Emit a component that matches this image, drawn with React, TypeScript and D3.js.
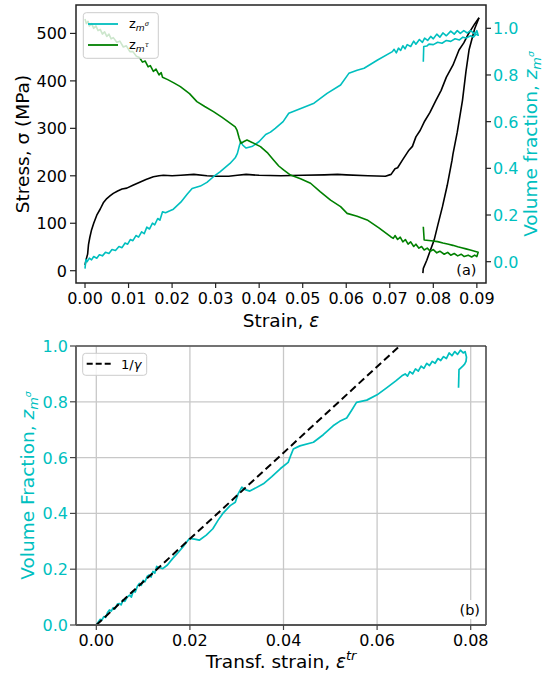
import React from "react";
import * as d3 from "d3";

// ---------- data (top panel: strain vs stress / volume fractions) ----------
const stressLoading: [number, number][] = [
  [0, 12], [0.0003, 25], [0.0006, 35], [0.0008, 55], [0.0011, 70], [0.0015, 86], [0.002, 100],
  [0.0027, 117], [0.0035, 130], [0.0042, 143], [0.005, 152], [0.0058, 158], [0.0065, 163],
  [0.0075, 168], [0.0085, 172], [0.0096, 174], [0.011, 180], [0.0127, 187], [0.014, 192],
  [0.0157, 198], [0.017, 200], [0.018, 201], [0.02, 200], [0.022, 201], [0.025, 203],
  [0.028, 200], [0.03, 199], [0.033, 199], [0.035, 201], [0.037, 203], [0.04, 201],
  [0.045, 200], [0.05, 201], [0.055, 202], [0.058, 203], [0.06, 202], [0.065, 200],
  [0.069, 199], [0.0703, 203], [0.0712, 215], [0.0718, 217], [0.0729, 233], [0.0744, 254],
  [0.0752, 262], [0.076, 282], [0.077, 296], [0.078, 315], [0.0792, 333], [0.0806, 359],
  [0.0818, 380], [0.083, 408], [0.0845, 433], [0.0859, 465], [0.087, 480], [0.088, 498],
  [0.0895, 520], [0.0905, 533],
];
const stressUnloading: [number, number][] = [
  [0.0905, 533], [0.0895, 510], [0.0882, 465], [0.0875, 420], [0.0867, 359], [0.0855, 292],
  [0.0845, 245], [0.0843, 233], [0.0832, 180], [0.0821, 135], [0.081, 95], [0.0802, 65],
  [0.0792, 40], [0.0785, 22], [0.0777, 5], [0.0776, -5],
];
const zSigmaTop: [number, number][] = [
  [0, -0.03], [0.0002, 0.01], [0.0005, 0.0], [0.001, 0.015], [0.0015, 0.008], [0.002, 0.022],
  [0.0027, 0.015], [0.0033, 0.03], [0.004, 0.025], [0.0047, 0.04], [0.0055, 0.035],
  [0.0062, 0.052], [0.007, 0.048], [0.0078, 0.065], [0.0085, 0.06], [0.0092, 0.08],
  [0.0098, 0.075], [0.0104, 0.095], [0.011, 0.09], [0.0117, 0.112], [0.0123, 0.105],
  [0.013, 0.128], [0.0136, 0.12], [0.0142, 0.148], [0.0148, 0.14], [0.0155, 0.165],
  [0.016, 0.158], [0.0167, 0.185], [0.0172, 0.178], [0.0178, 0.214], [0.0185, 0.21],
  [0.0195, 0.218], [0.0203, 0.225], [0.022, 0.255], [0.0235, 0.29], [0.0246, 0.314],
  [0.0265, 0.324], [0.028, 0.34], [0.0295, 0.364], [0.031, 0.385], [0.0333, 0.421],
  [0.0345, 0.445], [0.035, 0.464], [0.0355, 0.5], [0.0358, 0.515], [0.0362, 0.5],
  [0.037, 0.487], [0.0385, 0.495], [0.04, 0.515], [0.0415, 0.545], [0.0426, 0.555],
  [0.0437, 0.571], [0.0455, 0.6], [0.0468, 0.636], [0.05, 0.66], [0.0526, 0.679],
  [0.0556, 0.721], [0.0587, 0.757], [0.0606, 0.807], [0.0625, 0.82], [0.0641, 0.829],
  [0.0672, 0.864], [0.0706, 0.9], [0.071, 0.91], [0.0715, 0.895], [0.072, 0.915],
  [0.0725, 0.905], [0.073, 0.925], [0.0735, 0.912], [0.074, 0.93], [0.0748, 0.922],
  [0.0755, 0.945], [0.076, 0.932], [0.0768, 0.952], [0.0775, 0.94], [0.078, 0.958],
  [0.0787, 0.948], [0.0794, 0.965], [0.08, 0.955], [0.0808, 0.975], [0.0815, 0.962],
  [0.0822, 0.98], [0.083, 0.968], [0.084, 0.988], [0.0848, 0.975], [0.0855, 0.99],
  [0.0862, 0.978], [0.087, 0.99], [0.0878, 0.98], [0.0886, 0.99], [0.0895, 0.975],
  [0.09, 0.99], [0.0903, 0.97], [0.0898, 0.975], [0.0892, 0.962], [0.0886, 0.968],
  [0.0875, 0.958], [0.0868, 0.962], [0.086, 0.95], [0.085, 0.955], [0.084, 0.944],
  [0.083, 0.948], [0.082, 0.936], [0.081, 0.94], [0.08, 0.93], [0.079, 0.932],
  [0.0785, 0.924], [0.0778, 0.922], [0.0777, 0.857],
];
const zTauTop: [number, number][] = [
  [0, 1.04], [0.0003, 1.02], [0.0007, 1.03], [0.001, 1.01], [0.0015, 1.02], [0.002, 1.0],
  [0.0025, 1.01], [0.003, 0.99], [0.0035, 0.995], [0.004, 0.975], [0.0045, 0.985],
  [0.005, 0.965], [0.0055, 0.975], [0.006, 0.955], [0.0065, 0.96], [0.0073, 0.94],
  [0.008, 0.945], [0.0088, 0.92], [0.0095, 0.925], [0.0103, 0.9], [0.011, 0.9],
  [0.0118, 0.88], [0.0125, 0.875], [0.0132, 0.855], [0.0138, 0.86], [0.0145, 0.835],
  [0.015, 0.84], [0.0157, 0.815], [0.0163, 0.825], [0.017, 0.8], [0.0175, 0.81],
  [0.0178, 0.79], [0.019, 0.78], [0.0205, 0.765], [0.0219, 0.75], [0.024, 0.72],
  [0.0257, 0.686], [0.0275, 0.665], [0.0295, 0.643], [0.0315, 0.618], [0.0334, 0.593],
  [0.0345, 0.578], [0.0349, 0.564], [0.0354, 0.53], [0.0358, 0.507], [0.0365, 0.515],
  [0.0372, 0.521], [0.0385, 0.51], [0.0403, 0.493], [0.042, 0.465], [0.0433, 0.436],
  [0.0445, 0.41], [0.0456, 0.393], [0.0472, 0.371], [0.0495, 0.355], [0.0518, 0.336],
  [0.054, 0.3], [0.0564, 0.264], [0.0587, 0.236], [0.0602, 0.207], [0.0625, 0.195],
  [0.0648, 0.179], [0.0675, 0.145], [0.0702, 0.107], [0.0708, 0.1], [0.0712, 0.112],
  [0.0718, 0.095], [0.0724, 0.105], [0.073, 0.085], [0.0736, 0.095], [0.0742, 0.075],
  [0.0748, 0.085], [0.0755, 0.065], [0.076, 0.075], [0.0767, 0.058], [0.0773, 0.065],
  [0.0779, 0.05], [0.0786, 0.058], [0.0793, 0.045], [0.08, 0.052], [0.0808, 0.038],
  [0.0815, 0.045], [0.0825, 0.032], [0.0833, 0.04], [0.084, 0.028], [0.0848, 0.035],
  [0.0856, 0.025], [0.0864, 0.032], [0.0871, 0.022], [0.088, 0.028], [0.0888, 0.02],
  [0.0895, 0.028], [0.09, 0.022], [0.0903, 0.04], [0.0895, 0.045], [0.0885, 0.05],
  [0.0875, 0.055], [0.0865, 0.06], [0.0856, 0.064], [0.0845, 0.07], [0.0835, 0.075],
  [0.0822, 0.08], [0.081, 0.086], [0.0795, 0.09], [0.0779, 0.093], [0.0777, 0.15],
];

// ---------- data (bottom panel: transformation strain vs volume fraction) ----------
const zSigmaTr: [number, number][] = [
  [0, 0], [0.0004, 0.01], [0.0008, 0.02], [0.0012, 0.018], [0.0016, 0.03], [0.002, 0.027],
  [0.0024, 0.045], [0.0028, 0.054], [0.0032, 0.05], [0.0036, 0.062], [0.004, 0.058],
  [0.0045, 0.075], [0.0049, 0.077], [0.0053, 0.072], [0.0057, 0.09], [0.0061, 0.085],
  [0.0066, 0.1], [0.0071, 0.107], [0.0075, 0.1], [0.0079, 0.122], [0.0083, 0.118],
  [0.0088, 0.14], [0.0092, 0.149], [0.0096, 0.142], [0.01, 0.16], [0.0104, 0.155],
  [0.0109, 0.175], [0.0113, 0.179], [0.0117, 0.172], [0.0121, 0.192], [0.0125, 0.186],
  [0.0129, 0.21], [0.0131, 0.208], [0.0136, 0.205], [0.0142, 0.202], [0.0152, 0.215],
  [0.0163, 0.238], [0.0175, 0.26], [0.0185, 0.28], [0.0199, 0.31], [0.021, 0.308],
  [0.022, 0.304], [0.0235, 0.322], [0.0249, 0.345], [0.026, 0.375], [0.027, 0.399],
  [0.0286, 0.428], [0.0297, 0.44], [0.0303, 0.47], [0.0311, 0.494], [0.0318, 0.485],
  [0.0328, 0.48], [0.0357, 0.506], [0.0375, 0.532], [0.0393, 0.56], [0.041, 0.583],
  [0.0416, 0.61], [0.0421, 0.631], [0.0435, 0.642], [0.0464, 0.655], [0.0485, 0.682],
  [0.0506, 0.714], [0.052, 0.73], [0.0535, 0.742], [0.0545, 0.768], [0.0556, 0.798],
  [0.0578, 0.806], [0.06, 0.825], [0.0621, 0.851], [0.064, 0.875], [0.0653, 0.893],
  [0.066, 0.9], [0.0665, 0.892], [0.067, 0.908], [0.0676, 0.9], [0.0682, 0.918],
  [0.0688, 0.91], [0.0694, 0.928], [0.07, 0.92], [0.0706, 0.938], [0.0712, 0.93],
  [0.0718, 0.945], [0.0724, 0.938], [0.073, 0.955], [0.0736, 0.948], [0.0742, 0.962],
  [0.0748, 0.955], [0.0754, 0.975], [0.076, 0.965], [0.0766, 0.98], [0.0772, 0.97],
  [0.0778, 0.985], [0.0784, 0.975], [0.0788, 0.98], [0.0791, 0.96], [0.079, 0.945],
  [0.0787, 0.935], [0.0783, 0.928], [0.0778, 0.92], [0.0775, 0.915], [0.0774, 0.85],
];
const gamma = 0.0648;
const gammaLine: [number, number][] = [[0, 0], [0.085, 0.085 / gamma]];

const topXTicks = [0, 0.01, 0.02, 0.03, 0.04, 0.05, 0.06, 0.07, 0.08, 0.09];
const topYLeftTicks = [0, 100, 200, 300, 400, 500];
const topYRightTicks = [0, 0.2, 0.4, 0.6, 0.8, 1.0];
const botXTicks = [0, 0.02, 0.04, 0.06, 0.08];
const botYTicks = [0, 0.2, 0.4, 0.6, 0.8, 1.0];

const CYAN = "#00bfbf";
const GREEN = "#008000";
const FONT = "DejaVu Sans, sans-serif";

function ZSub({ italicZ = true }: { italicZ?: boolean }) {
  return (
    <>
      <tspan fontStyle={italicZ ? "italic" : "normal"}>z</tspan>
      <tspan fontSize="0.7em" dy="0.28em" fontStyle="italic">m</tspan>
      <tspan fontSize="0.5em" dy="-0.75em" fontStyle="italic">σ</tspan>
    </>
  );
}
function ZSubT() {
  return (
    <>
      <tspan>z</tspan>
      <tspan fontSize="0.7em" dy="0.28em" fontStyle="italic">m</tspan>
      <tspan fontSize="0.5em" dy="-0.75em" fontStyle="italic">τ</tspan>
    </>
  );
}

export default function App() {
  // top panel
  const L = 76, R = 486, T1 = 5, B1 = 283;
  const x1 = d3.scaleLinear().domain([-0.00207, 0.0921]).range([L, R]);
  const y1L = d3.scaleLinear().domain([-25.9, 559.9]).range([B1, T1]);
  const y1R = d3.scaleLinear().domain([-0.0913, 1.0998]).range([B1, T1]);
  // bottom panel
  const T2 = 346, B2 = 625;
  const x2 = d3.scaleLinear().domain([-0.00434, 0.08327]).range([L, R]);
  const y2 = d3.scaleLinear().domain([0, 1]).range([B2, T2]);

  const lineL = d3.line<[number, number]>().x((d) => x1(d[0])).y((d) => y1L(d[1]));
  const lineR = d3.line<[number, number]>().x((d) => x1(d[0])).y((d) => y1R(d[1]));
  const line2 = d3.line<[number, number]>().x((d) => x2(d[0])).y((d) => y2(d[1]));

  const f2 = d3.format(".2f");
  const f1 = d3.format(".1f");
  const tickFs = 16;
  const labFs = 18.5;

  return (
    <svg width={547} height={676} style={{ position: "absolute", left: 0, top: 0, background: "#fff" }} fontFamily={FONT}>
      <defs>
        <clipPath id="c1"><rect x={L} y={T1} width={R - L} height={B1 - T1} /></clipPath>
        <clipPath id="c2"><rect x={L} y={T2} width={R - L} height={B2 - T2} /></clipPath>
      </defs>
      <rect x={0} y={0} width={547} height={676} fill="#fff" />

      {/* ---------------- TOP PANEL ---------------- */}
      <g clipPath="url(#c1)" fill="none" strokeWidth={1.6} strokeLinejoin="round">
        <path d={lineL(stressLoading) || ""} stroke="#000" />
        <path d={lineL(stressUnloading) || ""} stroke="#000" />
        <path d={lineR(zSigmaTop) || ""} stroke={CYAN} />
        <path d={lineR(zTauTop) || ""} stroke={GREEN} />
      </g>
      {/* spines */}
      <rect x={L} y={T1} width={R - L} height={B1 - T1} fill="none" stroke="#222" strokeWidth={1.5} />
      {/* x ticks */}
      {topXTicks.map((t) => (
        <g key={"tx" + t}>
          <line x1={x1(t)} x2={x1(t)} y1={B1} y2={B1 + 5} stroke="#222" strokeWidth={1.2} />
          <text x={x1(t)} y={B1 + 21} textAnchor="middle" fontSize={tickFs} fill="#000">{f2(t)}</text>
        </g>
      ))}
      {topYLeftTicks.map((t) => (
        <g key={"tyl" + t}>
          <line x1={L - 6} x2={L} y1={y1L(t)} y2={y1L(t)} stroke="#222" strokeWidth={1.2} />
          <text x={L - 9} y={y1L(t) + 6} textAnchor="end" fontSize={tickFs} fill="#000">{t}</text>
        </g>
      ))}
      {topYRightTicks.map((t) => (
        <g key={"tyr" + t}>
          <line x1={R} x2={R + 5} y1={y1R(t)} y2={y1R(t)} stroke="#222" strokeWidth={1.2} />
          <text x={R + 7} y={y1R(t) + 6} textAnchor="start" fontSize={tickFs} fill={CYAN}>{f1(t)}</text>
        </g>
      ))}
      <text x={(L + R) / 2} y={327} textAnchor="middle" fontSize={labFs} fill="#000">
        Strain, <tspan fontStyle="italic">ε</tspan>
      </text>
      <text transform={`translate(29,${(T1 + B1) / 2}) rotate(-90)`} textAnchor="middle" fontSize={labFs} fill="#000">
        Stress, σ (MPa)
      </text>
      <text transform={`translate(537,${(T1 + B1) / 2}) rotate(-90)`} textAnchor="middle" fontSize={labFs} fill={CYAN}>
        Volume fraction, <ZSub />
      </text>
      {/* legend */}
      <g>
        <rect x={83.3} y={12.7} width={75} height={45.6} rx={3} fill="#fff" fillOpacity={0.8} stroke="#ccc" strokeWidth={1} />
        <line x1={88} x2={118} y1={24} y2={24} stroke={CYAN} strokeWidth={1.8} />
        <line x1={88} x2={118} y1={45} y2={45} stroke={GREEN} strokeWidth={1.8} />
        <text x={129} y={28} fontSize={13} fill="#000"><ZSub italicZ={false} /></text>
        <text x={129} y={49} fontSize={13} fill="#000"><ZSubT /></text>
      </g>
      <text x={476.5} y={275} textAnchor="end" fontSize={14.5} fill="#000">(a)</text>

      {/* ---------------- BOTTOM PANEL ---------------- */}
      <g stroke="#c8c8c8" strokeWidth={1.3}>
        {botXTicks.map((t) => (
          <line key={"gx" + t} x1={x2(t)} x2={x2(t)} y1={T2} y2={B2} />
        ))}
        {botYTicks.map((t) => (
          <line key={"gy" + t} x1={L} x2={R} y1={y2(t)} y2={y2(t)} />
        ))}
      </g>
      <rect x={458} y={600} width={24} height={19} fill="#fff" />
      <text x={480} y={615} textAnchor="end" fontSize={14.5} fill="#000">(b)</text>
      <g clipPath="url(#c2)" fill="none" strokeLinejoin="round">
        <path d={line2(zSigmaTr) || ""} stroke={CYAN} strokeWidth={1.7} />
        <path d={line2(gammaLine) || ""} stroke="#000" strokeWidth={2} strokeDasharray="7.5,4" />
      </g>
      {/* spines */}
      <line x1={L} x2={R} y1={T2} y2={T2} stroke="#111" strokeWidth={1.2} />
      <line x1={R} x2={R} y1={T2} y2={B2} stroke="#333" strokeWidth={1.4} />
      <line x1={L} x2={L} y1={T2} y2={B2} stroke="#666" strokeWidth={2} />
      <line x1={L} x2={R} y1={B2} y2={B2} stroke="#555" strokeWidth={2} />
      {botXTicks.map((t) => (
        <g key={"bx" + t}>
          <line x1={x2(t)} x2={x2(t)} y1={B2} y2={B2 + 5} stroke="#444" strokeWidth={1.2} />
          <text x={x2(t)} y={B2 + 21} textAnchor="middle" fontSize={tickFs} fill="#000">{f2(t)}</text>
        </g>
      ))}
      {botYTicks.map((t) => (
        <g key={"by" + t}>
          <line x1={L - 6} x2={L} y1={y2(t)} y2={y2(t)} stroke="#444" strokeWidth={1.2} />
          <text x={L - 8} y={y2(t) + 6} textAnchor="end" fontSize={tickFs} fill={CYAN}>{f1(t)}</text>
        </g>
      ))}
      <text x={(L + R) / 2} y={668} textAnchor="middle" fontSize={labFs} fill="#000">
        Transf. strain, <tspan fontStyle="italic">ε</tspan>
        <tspan fontSize="0.7em" dy="-0.6em" fontStyle="italic">tr</tspan>
      </text>
      <text transform={`translate(34,${(T2 + B2) / 2}) rotate(-90)`} textAnchor="middle" fontSize={labFs} fill={CYAN}>
        Volume Fraction, <ZSub />
      </text>
      {/* legend */}
      <g>
        <rect x={82.7} y={353.3} width={64} height={22} rx={3} fill="#fff" fillOpacity={0.8} stroke="#ccc" strokeWidth={1} />
        <line x1={86.7} x2={113.3} y1={363.8} y2={363.8} stroke="#000" strokeWidth={2} strokeDasharray="6,3" />
        <text x={121} y={368.5} fontSize={13} fill="#000">1/<tspan fontStyle="italic">γ</tspan></text>
      </g>
    </svg>
  );
}
